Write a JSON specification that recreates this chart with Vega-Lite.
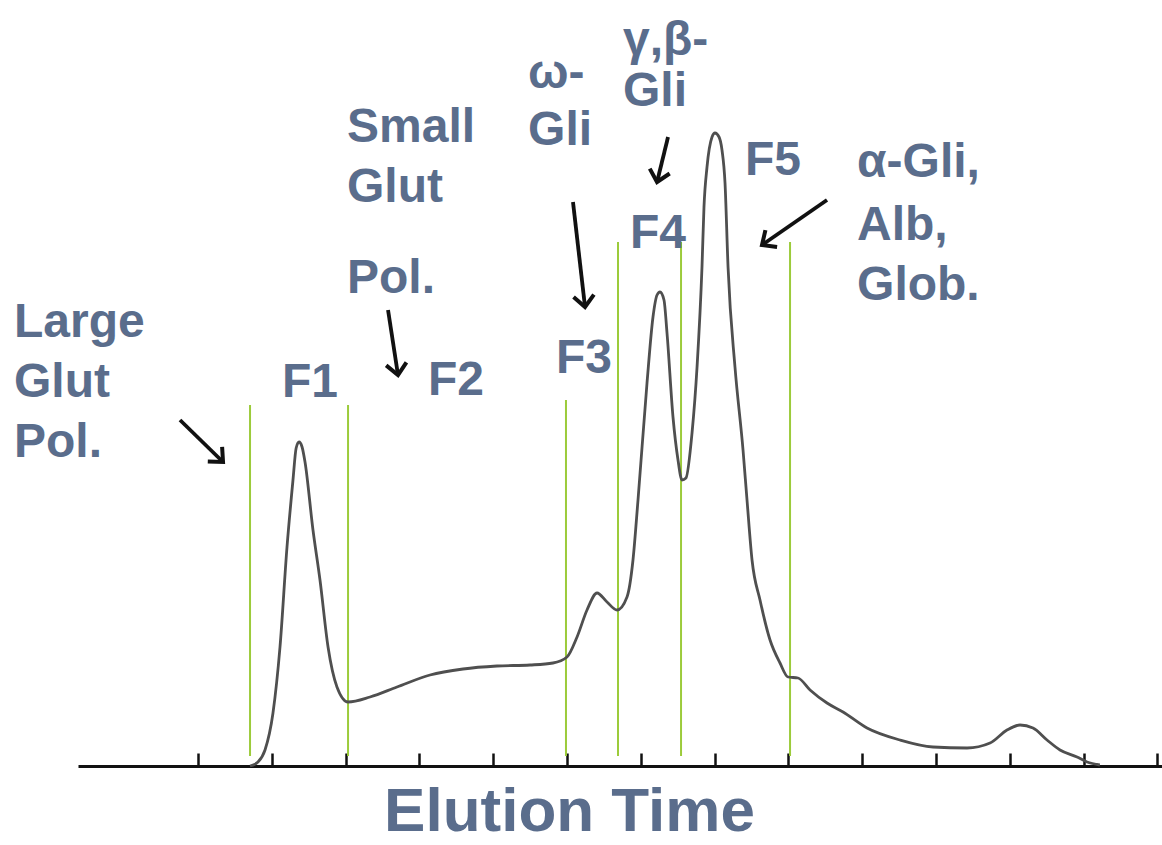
{
  "$schema": "https://vega.github.io/schema/vega-lite/v6.json",
  "width": 1084,
  "height": 766,
  "autosize": {"type": "none"},
  "padding": {"left": 78, "top": 0, "right": 0, "bottom": 79},
  "background": "white",
  "config": {"view": {"stroke": null}},
  "datasets": {
    "curve": [
      {"t": 2.705, "signal": 0.0},
      {"t": 2.813, "signal": 0.04},
      {"t": 2.908, "signal": 0.16},
      {"t": 3.016, "signal": 0.53},
      {"t": 3.111, "signal": 1.19},
      {"t": 3.206, "signal": 2.19},
      {"t": 3.287, "signal": 2.86},
      {"t": 3.33, "signal": 3.18},
      {"t": 3.369, "signal": 3.24},
      {"t": 3.41, "signal": 3.19},
      {"t": 3.45, "signal": 3.04},
      {"t": 3.558, "signal": 2.36},
      {"t": 3.653, "signal": 1.86},
      {"t": 3.762, "signal": 1.19},
      {"t": 3.883, "signal": 0.79},
      {"t": 4.033, "signal": 0.64},
      {"t": 4.331, "signal": 0.69},
      {"t": 4.696, "signal": 0.79},
      {"t": 5.144, "signal": 0.91},
      {"t": 5.591, "signal": 0.97},
      {"t": 6.051, "signal": 1.0},
      {"t": 6.499, "signal": 1.01},
      {"t": 6.81, "signal": 1.03},
      {"t": 7.0, "signal": 1.09},
      {"t": 7.136, "signal": 1.29},
      {"t": 7.271, "signal": 1.56},
      {"t": 7.407, "signal": 1.73},
      {"t": 7.542, "signal": 1.64},
      {"t": 7.678, "signal": 1.56},
      {"t": 7.813, "signal": 1.69},
      {"t": 7.894, "signal": 2.06},
      {"t": 7.962, "signal": 2.66},
      {"t": 8.084, "signal": 3.83},
      {"t": 8.165, "signal": 4.49},
      {"t": 8.22, "signal": 4.71},
      {"t": 8.26, "signal": 4.74},
      {"t": 8.314, "signal": 4.66},
      {"t": 8.355, "signal": 4.33},
      {"t": 8.436, "signal": 3.49},
      {"t": 8.504, "signal": 3.06},
      {"t": 8.558, "signal": 2.86},
      {"t": 8.612, "signal": 2.88},
      {"t": 8.694, "signal": 3.33},
      {"t": 8.762, "signal": 3.99},
      {"t": 8.829, "signal": 4.99},
      {"t": 8.856, "signal": 5.59},
      {"t": 8.897, "signal": 5.99},
      {"t": 8.965, "signal": 6.29},
      {"t": 9.005, "signal": 6.33},
      {"t": 9.06, "signal": 6.29},
      {"t": 9.1, "signal": 6.16},
      {"t": 9.141, "signal": 5.83},
      {"t": 9.182, "signal": 4.99},
      {"t": 9.276, "signal": 3.99},
      {"t": 9.385, "signal": 3.16},
      {"t": 9.439, "signal": 2.66},
      {"t": 9.507, "signal": 2.06},
      {"t": 9.615, "signal": 1.66},
      {"t": 9.751, "signal": 1.26},
      {"t": 9.886, "signal": 1.03},
      {"t": 9.995, "signal": 0.89},
      {"t": 10.13, "signal": 0.88},
      {"t": 10.293, "signal": 0.76},
      {"t": 10.523, "signal": 0.63},
      {"t": 10.74, "signal": 0.54},
      {"t": 11.065, "signal": 0.38},
      {"t": 11.512, "signal": 0.26},
      {"t": 11.959, "signal": 0.19},
      {"t": 12.42, "signal": 0.18},
      {"t": 12.732, "signal": 0.23},
      {"t": 12.962, "signal": 0.36},
      {"t": 13.138, "signal": 0.41},
      {"t": 13.314, "signal": 0.38},
      {"t": 13.504, "signal": 0.26},
      {"t": 13.68, "signal": 0.16},
      {"t": 13.911, "signal": 0.09},
      {"t": 14.046, "signal": 0.04},
      {"t": 14.22, "signal": 0.01}
    ],
    "cuts": [
      {"t": 2.705, "top": 3.61, "bottom": 0.1},
      {"t": 4.033, "top": 3.61, "bottom": 0.1},
      {"t": 6.986, "top": 3.66, "bottom": 0.1},
      {"t": 7.691, "top": 5.24, "bottom": 0.1},
      {"t": 8.545, "top": 5.24, "bottom": 0.1},
      {"t": 10.022, "top": 5.24, "bottom": 0.1}
    ],
    "labels": [
      {"label": "Large", "t": -0.493, "v": 4.29},
      {"label": "Glut", "t": -0.493, "v": 3.69},
      {"label": "Pol.", "t": -0.493, "v": 3.09},
      {"label": "F1", "t": 3.138, "v": 3.69},
      {"label": "Small", "t": 4.019, "v": 6.24},
      {"label": "Glut", "t": 4.019, "v": 5.64},
      {"label": "Pol.", "t": 4.019, "v": 4.73},
      {"label": "F2", "t": 5.117, "v": 3.71},
      {"label": "ω-", "t": 6.472, "v": 6.78},
      {"label": "Gli", "t": 6.472, "v": 6.21},
      {"label": "F3", "t": 6.851, "v": 3.93},
      {"label": "γ,β-", "t": 7.759, "v": 7.11},
      {"label": "Gli", "t": 7.759, "v": 6.6},
      {"label": "F4", "t": 7.854, "v": 5.18},
      {"label": "F5", "t": 9.412, "v": 5.91},
      {"label": "α-Gli,", "t": 10.93, "v": 5.89},
      {"label": "Alb,", "t": 10.93, "v": 5.26},
      {"label": "Glob.", "t": 10.93, "v": 4.66}
    ],
    "arrows": [
      {"t": 1.756, "v": 3.46, "t2": 2.339, "v2": 3.04, "dir": -45.7},
      {"t": 4.575, "v": 4.56, "t2": 4.71, "v2": 3.91, "dir": -8.7},
      {"t": 7.081, "v": 5.64, "t2": 7.244, "v2": 4.59, "dir": -6.5},
      {"t": 8.369, "v": 6.29, "t2": 8.22, "v2": 5.84, "dir": 13.7},
      {"t": 10.523, "v": 5.66, "t2": 9.642, "v2": 5.21, "dir": 55.3}
    ]
  },
  "encoding": {
    "x": {
      "type": "quantitative",
      "scale": {"domain": [0.374, 15.062], "nice": false, "zero": false},
      "axis": {
        "values": [2, 3, 4, 5, 6, 7, 8, 9, 10, 11, 12, 13, 14, 15],
        "labels": false,
        "grid": false,
        "domain": true,
        "domainColor": "#111111",
        "domainWidth": 3,
        "ticks": true,
        "tickColor": "#111111",
        "tickWidth": 2.5,
        "tickSize": -13,
        "title": "Elution Time",
        "titleFont": "Liberation Sans",
        "titleFontSize": 62,
        "titleFontWeight": "bold",
        "titleColor": "#5a6d8c",
        "titleX": 491,
        "titleY": 64,
        "titleAlign": "center",
        "titleAnchor": "start",
        "titleBaseline": "alphabetic"
      }
    },
    "y": {
      "type": "quantitative",
      "scale": {"domain": [0, 7.66], "nice": false, "zero": false},
      "axis": null
    }
  },
  "layer": [
    {
      "data": {"name": "cuts"},
      "mark": {"type": "rule", "color": "#9ccb3b", "strokeWidth": 2},
      "encoding": {
        "x": {"field": "t"},
        "y": {"field": "top"},
        "y2": {"field": "bottom"}
      }
    },
    {
      "data": {"name": "curve"},
      "mark": {"type": "line", "color": "#4f4f4f", "strokeWidth": 2.8, "interpolate": "monotone"},
      "encoding": {
        "x": {"field": "t"},
        "y": {"field": "signal"}
      }
    },
    {
      "data": {"name": "arrows"},
      "mark": {"type": "rule", "color": "#111111", "strokeWidth": 3.8},
      "encoding": {
        "x": {"field": "t"},
        "y": {"field": "v"},
        "x2": {"field": "t2"},
        "y2": {"field": "v2"}
      }
    },
    {
      "data": {"name": "arrows"},
      "mark": {"type": "point", "shape": "M -1 -1.1 L 0 0 L 1 -1.1", "filled": false, "stroke": "#111111", "strokeWidth": 4, "strokeJoin": "miter", "size": 420, "opacity": 1},
      "encoding": {
        "x": {"field": "t2"},
        "y": {"field": "v2"},
        "angle": {"field": "dir", "type": "quantitative", "scale": null}
      }
    },
    {
      "data": {"name": "labels"},
      "mark": {"type": "text", "align": "left", "baseline": "alphabetic", "font": "Liberation Sans", "fontSize": 48, "fontWeight": "bold", "color": "#5a6d8c"},
      "encoding": {
        "x": {"field": "t"},
        "y": {"field": "v"},
        "text": {"field": "label", "type": "nominal"}
      }
    }
  ]
}
